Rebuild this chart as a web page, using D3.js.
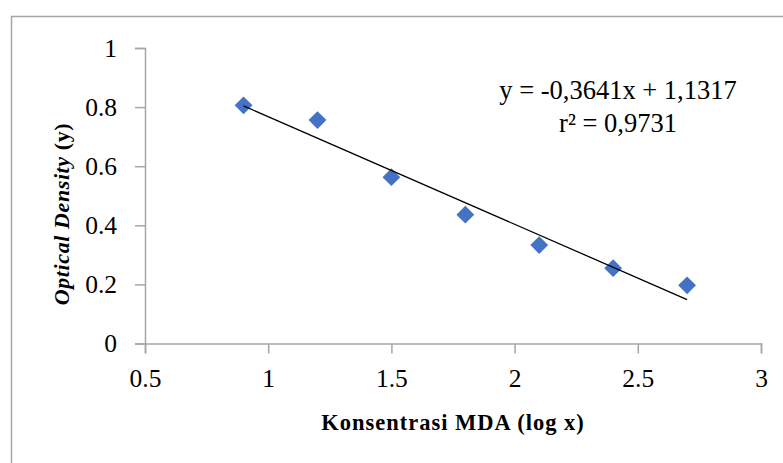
<!DOCTYPE html>
<html>
<head>
<meta charset="utf-8">
<script src="https://cdn.jsdelivr.net/npm/d3@7"></script>
<style>
  body { margin: 0; background: #fff; }
  svg { display: block; }
</style>
</head>
<body>
<div id="chart"></div>
<script>
// data
const logConc = [0.9, 1.2, 1.5, 1.8, 2.1, 2.4, 2.7]
const opticalDensity = [0.806, 0.756, 0.563, 0.436, 0.333, 0.255, 0.197]
const xTicks = [0.5, 1, 1.5, 2, 2.5, 3]
const yTicks = [0, 0.2, 0.4, 0.6, 0.8, 1]
const slope = -0.3641
const intercept = 1.1317
const eqLines = ['y = -0,3641x + 1,1317', 'r² = 0,9731']

const width = 783
const height = 463
const margin = { top: 48, right: 22, bottom: 120, left: 145 }

const svg = d3
  .select('#chart')
  .append('svg')
  .attr('width', width)
  .attr('height', height)

// outer chart frame (runs off the right / bottom of the picture)
svg
  .append('rect')
  .attr('x', 11.5)
  .attr('y', 16.5)
  .attr('width', width + 20)
  .attr('height', height + 20)
  .attr('fill', 'none')
  .attr('stroke', '#a6a6a6')
  .attr('stroke-width', 1.5)

const x = d3
  .scaleLinear()
  .domain([0.5, 3])
  .range([margin.left, 761])

const y = d3
  .scaleLinear()
  .domain([0, 1])
  .range([343.5, margin.top])

const tickFont = '"Liberation Serif", "DejaVu Serif", serif'

// x axis
const xAxis = svg
  .append('g')
  .attr('transform', `translate(0, ${y(0)})`)
  .call(d3.axisBottom(x).tickValues(xTicks).tickSize(10).tickPadding(15).tickFormat(d3.format('')))
xAxis.select('.domain').attr('stroke', '#a6a6a6').attr('stroke-width', 1.5)
xAxis.selectAll('.tick line').attr('stroke', '#a6a6a6').attr('stroke-width', 1.5)
xAxis
  .selectAll('.tick text')
  .attr('font-family', tickFont)
  .attr('font-size', 25.5)
  .attr('fill', '#000')

// y axis
const yAxis = svg
  .append('g')
  .attr('transform', `translate(${x(0.5)}, 0)`)
  .call(d3.axisLeft(y).tickValues(yTicks).tickSize(10).tickPadding(18).tickFormat(d3.format('')))
yAxis.select('.domain').attr('stroke', '#a6a6a6').attr('stroke-width', 1.5)
yAxis.selectAll('.tick line').attr('stroke', '#a6a6a6').attr('stroke-width', 1.5)
yAxis
  .selectAll('.tick text')
  .attr('font-family', tickFont)
  .attr('font-size', 25.5)
  .attr('fill', '#000')

// diamond markers
const points = logConc.map((d, i) => ({ x: d, y: opticalDensity[i] }))
svg
  .selectAll('rect.pt')
  .data(points)
  .join('rect')
  .attr('class', 'pt')
  .attr('x', -6.3)
  .attr('y', -6.3)
  .attr('width', 12.6)
  .attr('height', 12.6)
  .attr('fill', '#4472c4')
  .attr('transform', d => `translate(${x(d.x)}, ${y(d.y)}) rotate(45)`)

// trendline across the data range, drawn over the markers
const xExtent = d3.extent(logConc)
svg
  .append('line')
  .attr('x1', x(xExtent[0]))
  .attr('y1', y(slope * xExtent[0] + intercept))
  .attr('x2', x(xExtent[1]))
  .attr('y2', y(slope * xExtent[1] + intercept))
  .attr('stroke', '#000')
  .attr('stroke-width', 1.3)

// equation label
svg
  .append('g')
  .selectAll('text')
  .data(eqLines)
  .join('text')
  .attr('x', 618)
  .attr('y', (d, i) => 99 + i * 33)
  .attr('text-anchor', 'middle')
  .attr('font-family', tickFont)
  .attr('font-size', 26.5)
  .attr('fill', '#000')
  .text(d => d)

// axis titles
svg
  .append('text')
  .attr('x', 453)
  .attr('y', 430)
  .attr('text-anchor', 'middle')
  .attr('font-family', tickFont)
  .attr('font-size', 22.5)
  .attr('font-weight', 'bold')
  .attr('letter-spacing', 1)
  .text('Konsentrasi MDA (log x)')

const yTitle = svg
  .append('text')
  .attr('transform', 'translate(69, 214) rotate(-90)')
  .attr('text-anchor', 'middle')
  .attr('font-family', tickFont)
  .attr('font-size', 22)
  .attr('font-weight', 'bold')
  .attr('letter-spacing', 0.6)
yTitle.append('tspan').attr('font-style', 'italic').text('Optical Density')
yTitle.append('tspan').text(' (y)')
</script>
</body>
</html>
